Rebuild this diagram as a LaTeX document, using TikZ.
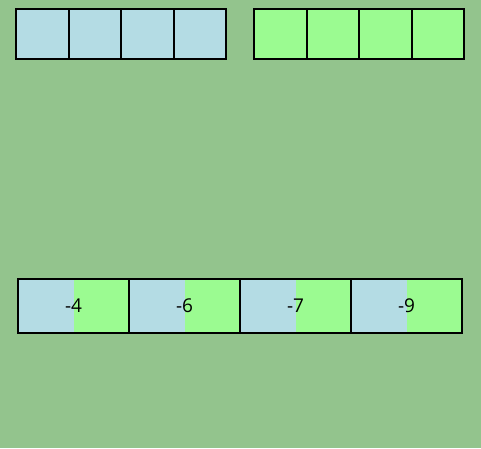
\documentclass[tikz,border=0pt]{standalone}
\usepackage{fontspec}
\setmainfont{Open Sans}
\usetikzlibrary{positioning}
\definecolor{bggreen}{HTML}{93C48D}
\definecolor{cellblue}{HTML}{B4DCE4}
\definecolor{cellgreen}{HTML}{9BFB91}
\tikzset{
	cell/.style={draw, line width=2pt, minimum width=52.5pt, minimum height=50pt,
		inner sep=0pt, outer sep=0pt},
	pair/.style={draw, line width=1.6pt, minimum width=111pt, minimum height=54pt,
		inner sep=0pt, outer sep=0pt, fill=cellgreen,
		font={\fontsize{19pt}{22pt}\selectfont},
		path picture={\fill[cellblue] (path picture bounding box.south west)
			rectangle (path picture bounding box.north);}}
}
\begin{document}
\begin{tikzpicture}[x=1pt,y=-1pt]
	\fill[bggreen] (0,0) rectangle (481,448);

	\node[cell, fill=cellblue, anchor=north west] (b1) at (16,9) {};
	\node[cell, fill=cellblue, right=0pt of b1] (b2) {};
	\node[cell, fill=cellblue, right=0pt of b2] (b3) {};
	\node[cell, fill=cellblue, right=0pt of b3] (b4) {};

	\node[cell, fill=cellgreen, anchor=north west] (g1) at (254,9) {};
	\node[cell, fill=cellgreen, right=0pt of g1] (g2) {};
	\node[cell, fill=cellgreen, right=0pt of g2] (g3) {};
	\node[cell, fill=cellgreen, right=0pt of g3] (g4) {};

	\node[pair, anchor=north west] (s1) at (18,279) {-4};
	\node[pair, right=0pt of s1] (s2) {-6};
	\node[pair, right=0pt of s2] (s3) {-7};
	\node[pair, right=0pt of s3] (s4) {-9};
	\draw[line width=2pt] (s1.north west) rectangle (s4.south east);
\end{tikzpicture}
\end{document}
